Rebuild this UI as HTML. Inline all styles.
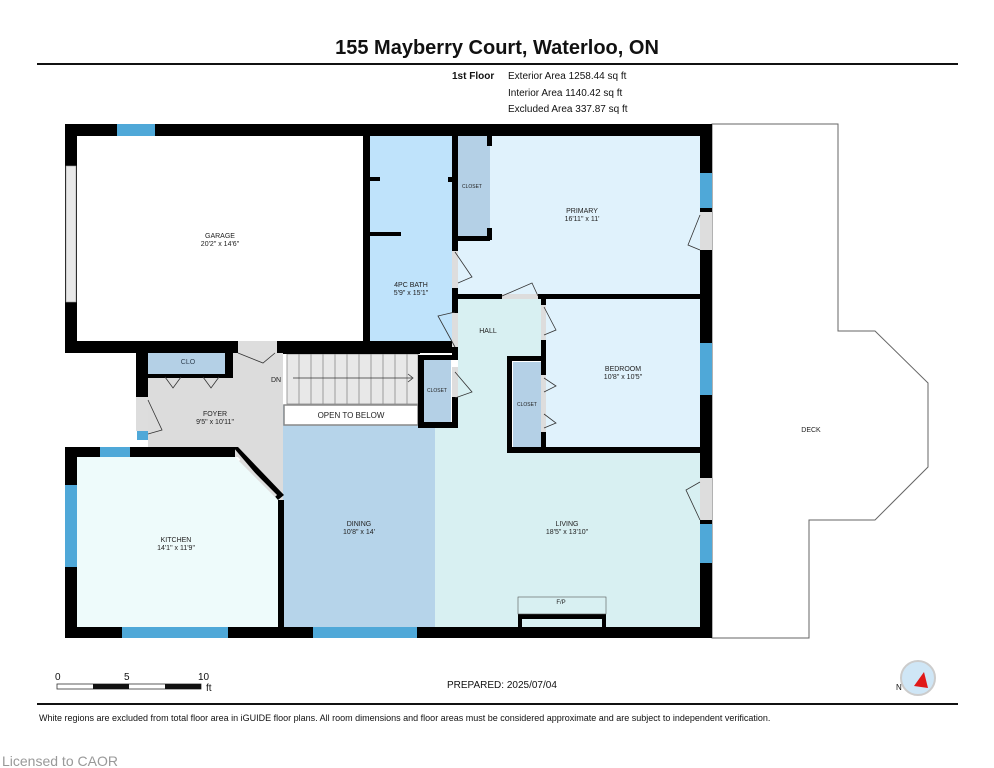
<!DOCTYPE html>
<html><head><meta charset="utf-8"><style>
html,body{margin:0;padding:0;background:#fff}
svg{display:block}
text{font-family:"Liberation Sans",sans-serif}
</style></head><body>
<svg width="994" height="768" viewBox="0 0 994 768" xmlns="http://www.w3.org/2000/svg">
<rect width="994" height="768" fill="#fff"/>
<text x="497" y="54" font-size="20" font-weight="bold" text-anchor="middle" fill="#111">155 Mayberry Court, Waterloo, ON</text>
<rect x="37" y="63" width="921" height="2" fill="#111"/>
<text x="452" y="79" font-size="10" font-weight="bold" fill="#111">1st Floor</text>
<text x="508" y="79" font-size="10" fill="#111">Exterior Area 1258.44 sq ft</text>
<text x="508" y="96" font-size="10" fill="#111">Interior Area 1140.42 sq ft</text>
<text x="508" y="112" font-size="10" fill="#111">Excluded Area 337.87 sq ft</text>

<!-- deck -->
<polygon points="712,124 838,124 838,331 875,331 928,383 928,467 875,520 809,520 809,638 712,638" fill="#fff" stroke="#666" stroke-width="1"/>
<text x="811" y="432" font-size="7" text-anchor="middle" fill="#222">DECK</text>

<!-- room fills -->
<rect x="77" y="136" width="290" height="206" fill="#fff"/>
<rect x="370" y="136" width="84" height="215" fill="#bfe3fb"/>
<rect x="458" y="136" width="32" height="104" fill="#b4d0e6"/>
<polygon points="490,136 700,136 700,295 455,295 455,240 490,240" fill="#e0f2fc"/>
<rect x="545" y="299" width="155" height="150" fill="#e0f2fc"/>
<polygon points="458,299 545,299 545,357 507,357 507,453 700,453 700,627 435,627 435,427 458,427" fill="#d8f0f2"/>
<rect x="283" y="405" width="152" height="222" fill="#b6d4ea"/>
<polygon points="148,347 283,347 283,627 278,627 278,500 238,457 148,457" fill="#dcdcdc"/>
<polygon points="77,457 235,457 280,500 280,627 77,627" fill="#eefbfb"/>
<rect x="148" y="353" width="80" height="22" fill="#b4d0e6"/>
<rect x="424" y="359" width="27" height="64" fill="#b4d0e6"/>
<rect x="513" y="362" width="29" height="86" fill="#b4d0e6"/>

<!-- stairs -->
<rect x="287" y="354" width="131" height="50" fill="#e8e8e8" stroke="#888" stroke-width="0.8"/>
<g stroke="#888" stroke-width="0.8">
<line x1="299" y1="354" x2="299" y2="404"/><line x1="311" y1="354" x2="311" y2="404"/><line x1="323" y1="354" x2="323" y2="404"/><line x1="335" y1="354" x2="335" y2="404"/><line x1="347" y1="354" x2="347" y2="404"/><line x1="359" y1="354" x2="359" y2="404"/><line x1="371" y1="354" x2="371" y2="404"/><line x1="383" y1="354" x2="383" y2="404"/><line x1="395" y1="354" x2="395" y2="404"/><line x1="407" y1="354" x2="407" y2="404"/>
</g>
<line x1="293" y1="378" x2="412" y2="378" stroke="#333" stroke-width="0.8"/>
<polyline points="408,374 413,378 408,382" fill="none" stroke="#333" stroke-width="0.8"/>
<rect x="284" y="405" width="134" height="20" fill="#fff" stroke="#888" stroke-width="1.5"/>
<text x="351" y="418" font-size="8" text-anchor="middle" fill="#222">OPEN TO BELOW</text>

<!-- walls -->
<g fill="#000">
<rect x="65" y="124" width="647" height="12"/>
<rect x="65" y="124" width="12" height="229"/>
<rect x="65" y="341" width="173" height="12"/>
<rect x="277" y="341" width="181" height="12"/>
<rect x="363" y="136" width="7" height="217"/>
<rect x="700" y="124" width="12" height="514"/>
<rect x="65" y="627" width="647" height="11"/>
<rect x="65" y="447" width="12" height="191"/>
<rect x="65" y="447" width="170" height="10"/>
<rect x="136" y="347" width="12" height="50"/>
<rect x="225" y="347" width="8" height="30"/>
<rect x="148" y="374" width="85" height="4"/>
<rect x="278" y="500" width="6" height="127"/>
<rect x="283" y="349" width="137" height="5"/>
<rect x="452" y="136" width="6" height="115"/>
<rect x="452" y="288" width="6" height="25"/>
<rect x="452" y="347" width="6" height="10"/>
<rect x="418" y="355" width="40" height="5"/>
<rect x="418" y="355" width="6" height="73"/>
<rect x="418" y="422" width="40" height="6"/>
<rect x="452" y="397" width="6" height="30"/>
<rect x="455" y="236" width="35" height="5"/>
<rect x="487" y="136" width="5" height="10"/>
<rect x="487" y="228" width="5" height="12"/>
<rect x="455" y="294" width="47" height="5"/>
<rect x="538" y="294" width="174" height="5"/>
<rect x="541" y="299" width="5" height="6"/>
<rect x="541" y="340" width="5" height="35"/>
<rect x="541" y="432" width="5" height="20"/>
<rect x="507" y="356" width="39" height="5"/>
<rect x="507" y="356" width="5" height="97"/>
<rect x="507" y="447" width="193" height="6"/>
<rect x="370" y="177" width="10" height="4"/>
<rect x="370" y="232" width="31" height="4"/>
<rect x="448" y="177" width="4" height="5"/>
<rect x="518" y="614" width="88" height="5"/>
<rect x="518" y="614" width="4" height="13"/>
<rect x="602" y="614" width="4" height="13"/>
</g>
<rect x="518" y="597" width="88" height="17" fill="none" stroke="#555" stroke-width="0.6"/>
<text x="561" y="604" font-size="6" text-anchor="middle" fill="#222">F/P</text>
<polygon points="233,447 238,447 284,495 278,500" fill="#000"/>
<line x1="240" y1="460" x2="276" y2="496" stroke="#ddd" stroke-width="3"/>

<!-- windows -->
<g fill="#4fa8d8">
<rect x="117" y="124" width="38" height="12"/>
<rect x="700" y="173" width="12" height="35"/>
<rect x="700" y="343" width="12" height="52"/>
<rect x="700" y="524" width="12" height="39"/>
<rect x="122" y="627" width="106" height="11"/>
<rect x="313" y="627" width="104" height="11"/>
<rect x="65" y="485" width="12" height="82"/>
<rect x="100" y="447" width="30" height="10"/>
<rect x="137" y="431" width="11" height="9"/>
</g>
<rect x="66" y="166" width="10" height="136" fill="#e8e8e8" stroke="#999" stroke-width="0.6"/>
<!-- door gaps -->
<g fill="#ddd">
<rect x="700" y="212" width="12" height="38"/>
<rect x="700" y="478" width="12" height="42"/>
<rect x="452" y="251" width="6" height="37"/>
<rect x="452" y="313" width="6" height="34"/>
<rect x="502" y="294" width="36" height="5"/>
<rect x="541" y="305" width="5" height="35"/>
<rect x="541" y="375" width="5" height="57"/>
<rect x="452" y="367" width="6" height="30"/>
<rect x="136" y="397" width="12" height="34"/>
<rect x="238" y="341" width="39" height="12"/>
</g>
<g fill="none" stroke="#333" stroke-width="0.8">
<polyline points="700,215 688,245 700,250"/>
<polyline points="700,482 686,490 700,520"/>
<polyline points="455,252 472,277 458,283"/>
<polyline points="455,347 438,316 455,312"/>
<polyline points="502,296 532,283 538,296"/>
<polyline points="544,307 556,330 544,335"/>
<polyline points="455,372 472,392 455,398"/>
<polyline points="544,378 556,386 544,392"/>
<polyline points="544,414 556,423 544,428"/>
<polyline points="148,400 162,430 148,434"/>
<polyline points="165,377 173,388 181,377"/>
<polyline points="203,377 211,388 219,377"/>
<polyline points="238,353 263,363 275,353"/>
</g>

<!-- labels -->
<g font-size="7" text-anchor="middle" fill="#222">
<text x="220" y="238">GARAGE</text><text x="220" y="246">20'2" x 14'6"</text>
<text x="411" y="287">4PC BATH</text><text x="411" y="295">5'9" x 15'1"</text>
<text x="582" y="213">PRIMARY</text><text x="582" y="221">16'11" x 11'</text>
<text x="488" y="333">HALL</text>
<text x="623" y="371">BEDROOM</text><text x="623" y="379">10'8" x 10'5"</text>
<text x="215" y="416">FOYER</text><text x="215" y="424">9'5" x 10'11"</text>
<text x="359" y="526">DINING</text><text x="359" y="534">10'8" x 14'</text>
<text x="567" y="526">LIVING</text><text x="567" y="534">18'5" x 13'10"</text>
<text x="176" y="542">KITCHEN</text><text x="176" y="550">14'1" x 11'9"</text>
<text x="188" y="364" fill="#345">CLO</text>
<text x="276" y="382">DN</text>
</g>
<g font-size="5" text-anchor="middle" fill="#222">
<text x="472" y="188">CLOSET</text><text x="437" y="392">CLOSET</text><text x="527" y="406">CLOSET</text>
</g>

<!-- scale -->
<g font-size="10" fill="#111">
<text x="55" y="680">0</text><text x="124" y="680">5</text><text x="198" y="680">10</text><text x="206" y="691">ft</text>
</g>
<rect x="57" y="684" width="144" height="5" fill="#fff" stroke="#333" stroke-width="0.8"/>
<rect x="93" y="684" width="36" height="5" fill="#111"/><rect x="165" y="684" width="36" height="5" fill="#111"/>
<text x="447" y="688" font-size="10" fill="#111">PREPARED: 2025/07/04</text>
<circle cx="918" cy="678" r="17" fill="#cfe6f6" stroke="#ccc" stroke-width="2"/>
<polygon points="924,672 914,686 928,688" fill="#e01818"/>
<text x="896" y="690" font-size="8" fill="#111">N</text>
<rect x="37" y="703" width="921" height="2" fill="#111"/>
<text x="39" y="721" font-size="9" fill="#111">White regions are excluded from total floor area in iGUIDE floor plans. All room dimensions and floor areas must be considered approximate and are subject to independent verification.</text>
<text x="2" y="766" font-size="14" fill="#999">Licensed to CAOR</text>
</svg>
</body></html>
